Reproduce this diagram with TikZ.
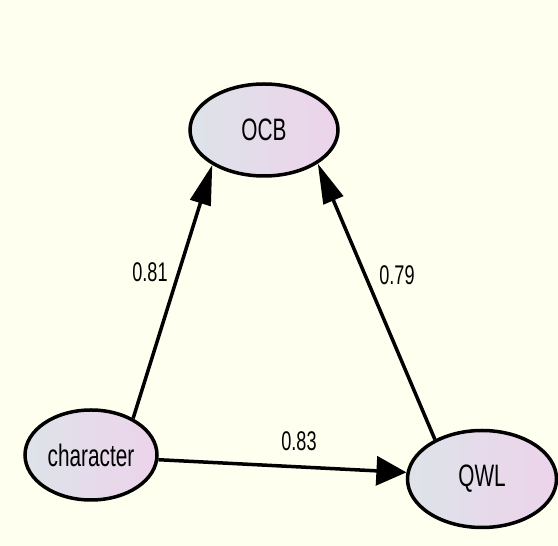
\documentclass[tikz,border=0pt]{standalone}
\usepackage{fontspec}
\setmainfont{Liberation Sans}
\newfontfamily\narrowsans[FakeStretch=0.67]{Liberation Sans}
\usetikzlibrary{shapes.geometric,arrows.meta}

\definecolor{paper}{HTML}{FFFFF0}
\definecolor{lvleft}{HTML}{DDE3E9}
\definecolor{lvright}{HTML}{EDD3EB}

\tikzset{
  latent/.style={ellipse, draw=black, line width=3.5pt, left color=lvleft, right color=lvright,
    inner sep=0pt, font=\narrowsans\fontsize{31}{33}\selectfont},
  path/.style={line width=3.5pt},
  steep/.style={path, -{Triangle[length=40pt,width=21pt]}},
  flat/.style={path, -{Triangle[length=30pt,width=29pt]}},
  coef/.style={font=\narrowsans\fontsize{27}{29}\selectfont}
}

\begin{document}
\begin{tikzpicture}[x=1pt,y=1pt]
        \fill[paper] (0,0) rectangle (558,546);
        \useasboundingbox (0,0) rectangle (558,546);

        \node[latent, minimum width=148pt, minimum height=92pt] (ocb) at (264, 416) {OCB};
        \node[latent, minimum width=132pt, minimum height=90pt] (char) at (91, 91) {character};
        \node[latent, minimum width=149pt, minimum height=97pt] (qwl) at (482, 67) {QWL};

        \draw[steep] (char.41) -- (ocb.214);
        \draw[steep] (qwl.140) -- (ocb.328);
        \draw[flat] (char.-4) -- (qwl.175);

        \node[coef] (c1) at (150, 274) {0.81};
        \node[coef] (c2) at (397, 271) {0.79};
        \node[coef] (c3) at (299, 105) {0.83};
      \end{tikzpicture}
\end{document}
